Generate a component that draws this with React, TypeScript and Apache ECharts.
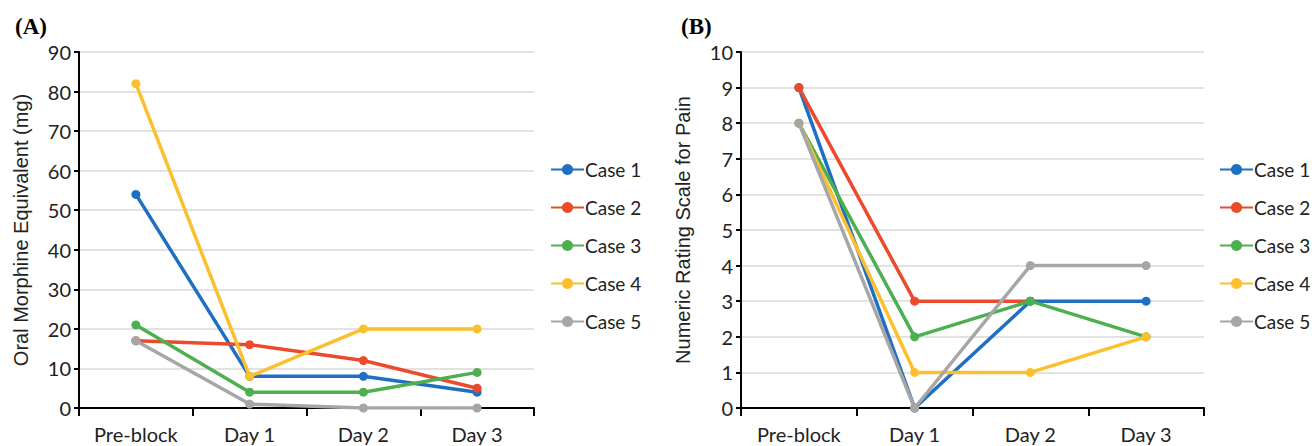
import React, { useEffect, useRef } from "react";
import * as echarts from "echarts";

const categories = ["Pre-block", "Day 1", "Day 2", "Day 3"];
const caseNames = ["Case 1", "Case 2", "Case 3", "Case 4", "Case 5"];
const colors = ["#1f6fc2", "#eb4a2c", "#4caf50", "#fcbf2d", "#a6a6a6"];

const omeCase1 = [54, 8, 8, 4];
const omeCase2 = [17, 16, 12, 5];
const omeCase3 = [21, 4, 4, 9];
const omeCase4 = [82, 8, 20, 20];
const omeCase5 = [17, 1, 0, 0];

const nrsCase1 = [9, 0, 3, 3];
const nrsCase2 = [9, 3, 3, null];
const nrsCase3 = [8, 2, 3, 2];
const nrsCase4 = [8, 1, 1, 2];
const nrsCase5 = [8, 0, 4, 4];

const omeData = [omeCase1, omeCase2, omeCase3, omeCase4, omeCase5];
const nrsData = [nrsCase1, nrsCase2, nrsCase3, nrsCase4, nrsCase5];

const FONT = "Lato, 'Open Sans', sans-serif";
const NAME_FONT = "'Liberation Sans', Arial, sans-serif";

export default function App() {
  const ref = useRef<HTMLDivElement>(null);
  useEffect(() => {
    if (!ref.current) return;
    const chart = echarts.init(ref.current, undefined, { renderer: "svg" });
    const xAxisBase = (gridIndex: number) => ({
      type: "category",
      gridIndex,
      data: categories,
      boundaryGap: true,
      axisLine: { lineStyle: { color: "#000", width: 2 } },
      axisTick: { show: true, length: 8, lineStyle: { color: "#000", width: 2 } },
      axisLabel: { color: "#222", fontSize: 20, fontFamily: FONT, margin: 16 },
    });
    const yAxisBase = (gridIndex: number, max: number, interval: number, name: string) => ({
      type: "value",
      gridIndex,
      min: 0,
      max,
      interval,
      name,
      nameLocation: "middle",
      nameGap: 48,
      nameTextStyle: { color: "#222", fontSize: 20, fontFamily: NAME_FONT },
      axisLine: { show: true, lineStyle: { color: "#000", width: 2 } },
      axisTick: { show: true, length: 5, lineStyle: { color: "#000", width: 2 } },
      axisLabel: { color: "#222", fontSize: 20, fontFamily: FONT, margin: 8 },
      splitLine: { show: true, lineStyle: { color: "#d9d9d9", width: 1.5 } },
    });
    const mkSeries = (data: (number | null)[][], idx: number) =>
      data.map((vals, i) => ({
        name: caseNames[i],
        type: "line",
        xAxisIndex: idx,
        yAxisIndex: idx,
        data: vals,
        symbol: "circle",
        symbolSize: 9,
        lineStyle: { width: 3.5, color: colors[i] },
        itemStyle: { color: colors[i] },
        z: 2 + i,
      }));
    const legendBase = (left: number) => ({
      orient: "vertical",
      left,
      top: 160,
      padding: 0,
      itemWidth: 33,
      itemHeight: 14,
      itemGap: 19,
      textStyle: { color: "#222", fontSize: 19, lineHeight: 16, fontFamily: FONT, padding: [0, 0, 0, -4] },
      data: caseNames,
    });
    const titleStyle = { fontFamily: "'Liberation Serif', serif", fontWeight: "bold", fontSize: 23, color: "#000" };
    chart.setOption({
      animation: false,
      backgroundColor: "#fff",
      title: [
        { text: "(A)", left: 10, top: 10, textStyle: titleStyle },
        { text: "(B)", left: 676, top: 10, textStyle: titleStyle },
      ],
      grid: [
        { left: 79, top: 52, width: 455, height: 356 },
        { left: 741, top: 52, width: 463, height: 356 },
      ],
      xAxis: [xAxisBase(0), xAxisBase(1)],
      yAxis: [
        yAxisBase(0, 90, 10, "Oral Morphine Equivalent (mg)"),
        yAxisBase(1, 10, 1, "Numeric Rating Scale for Pain"),
      ],
      legend: [legendBase(550), legendBase(1219)],
      series: [...mkSeries(omeData, 0), ...mkSeries(nrsData, 1)],
    });
    return () => chart.dispose();
  }, []);
  return (
    <div
      ref={ref}
      style={{ position: "fixed", left: 0, top: 0, width: 1312, height: 446 }}
    />
  );
}
